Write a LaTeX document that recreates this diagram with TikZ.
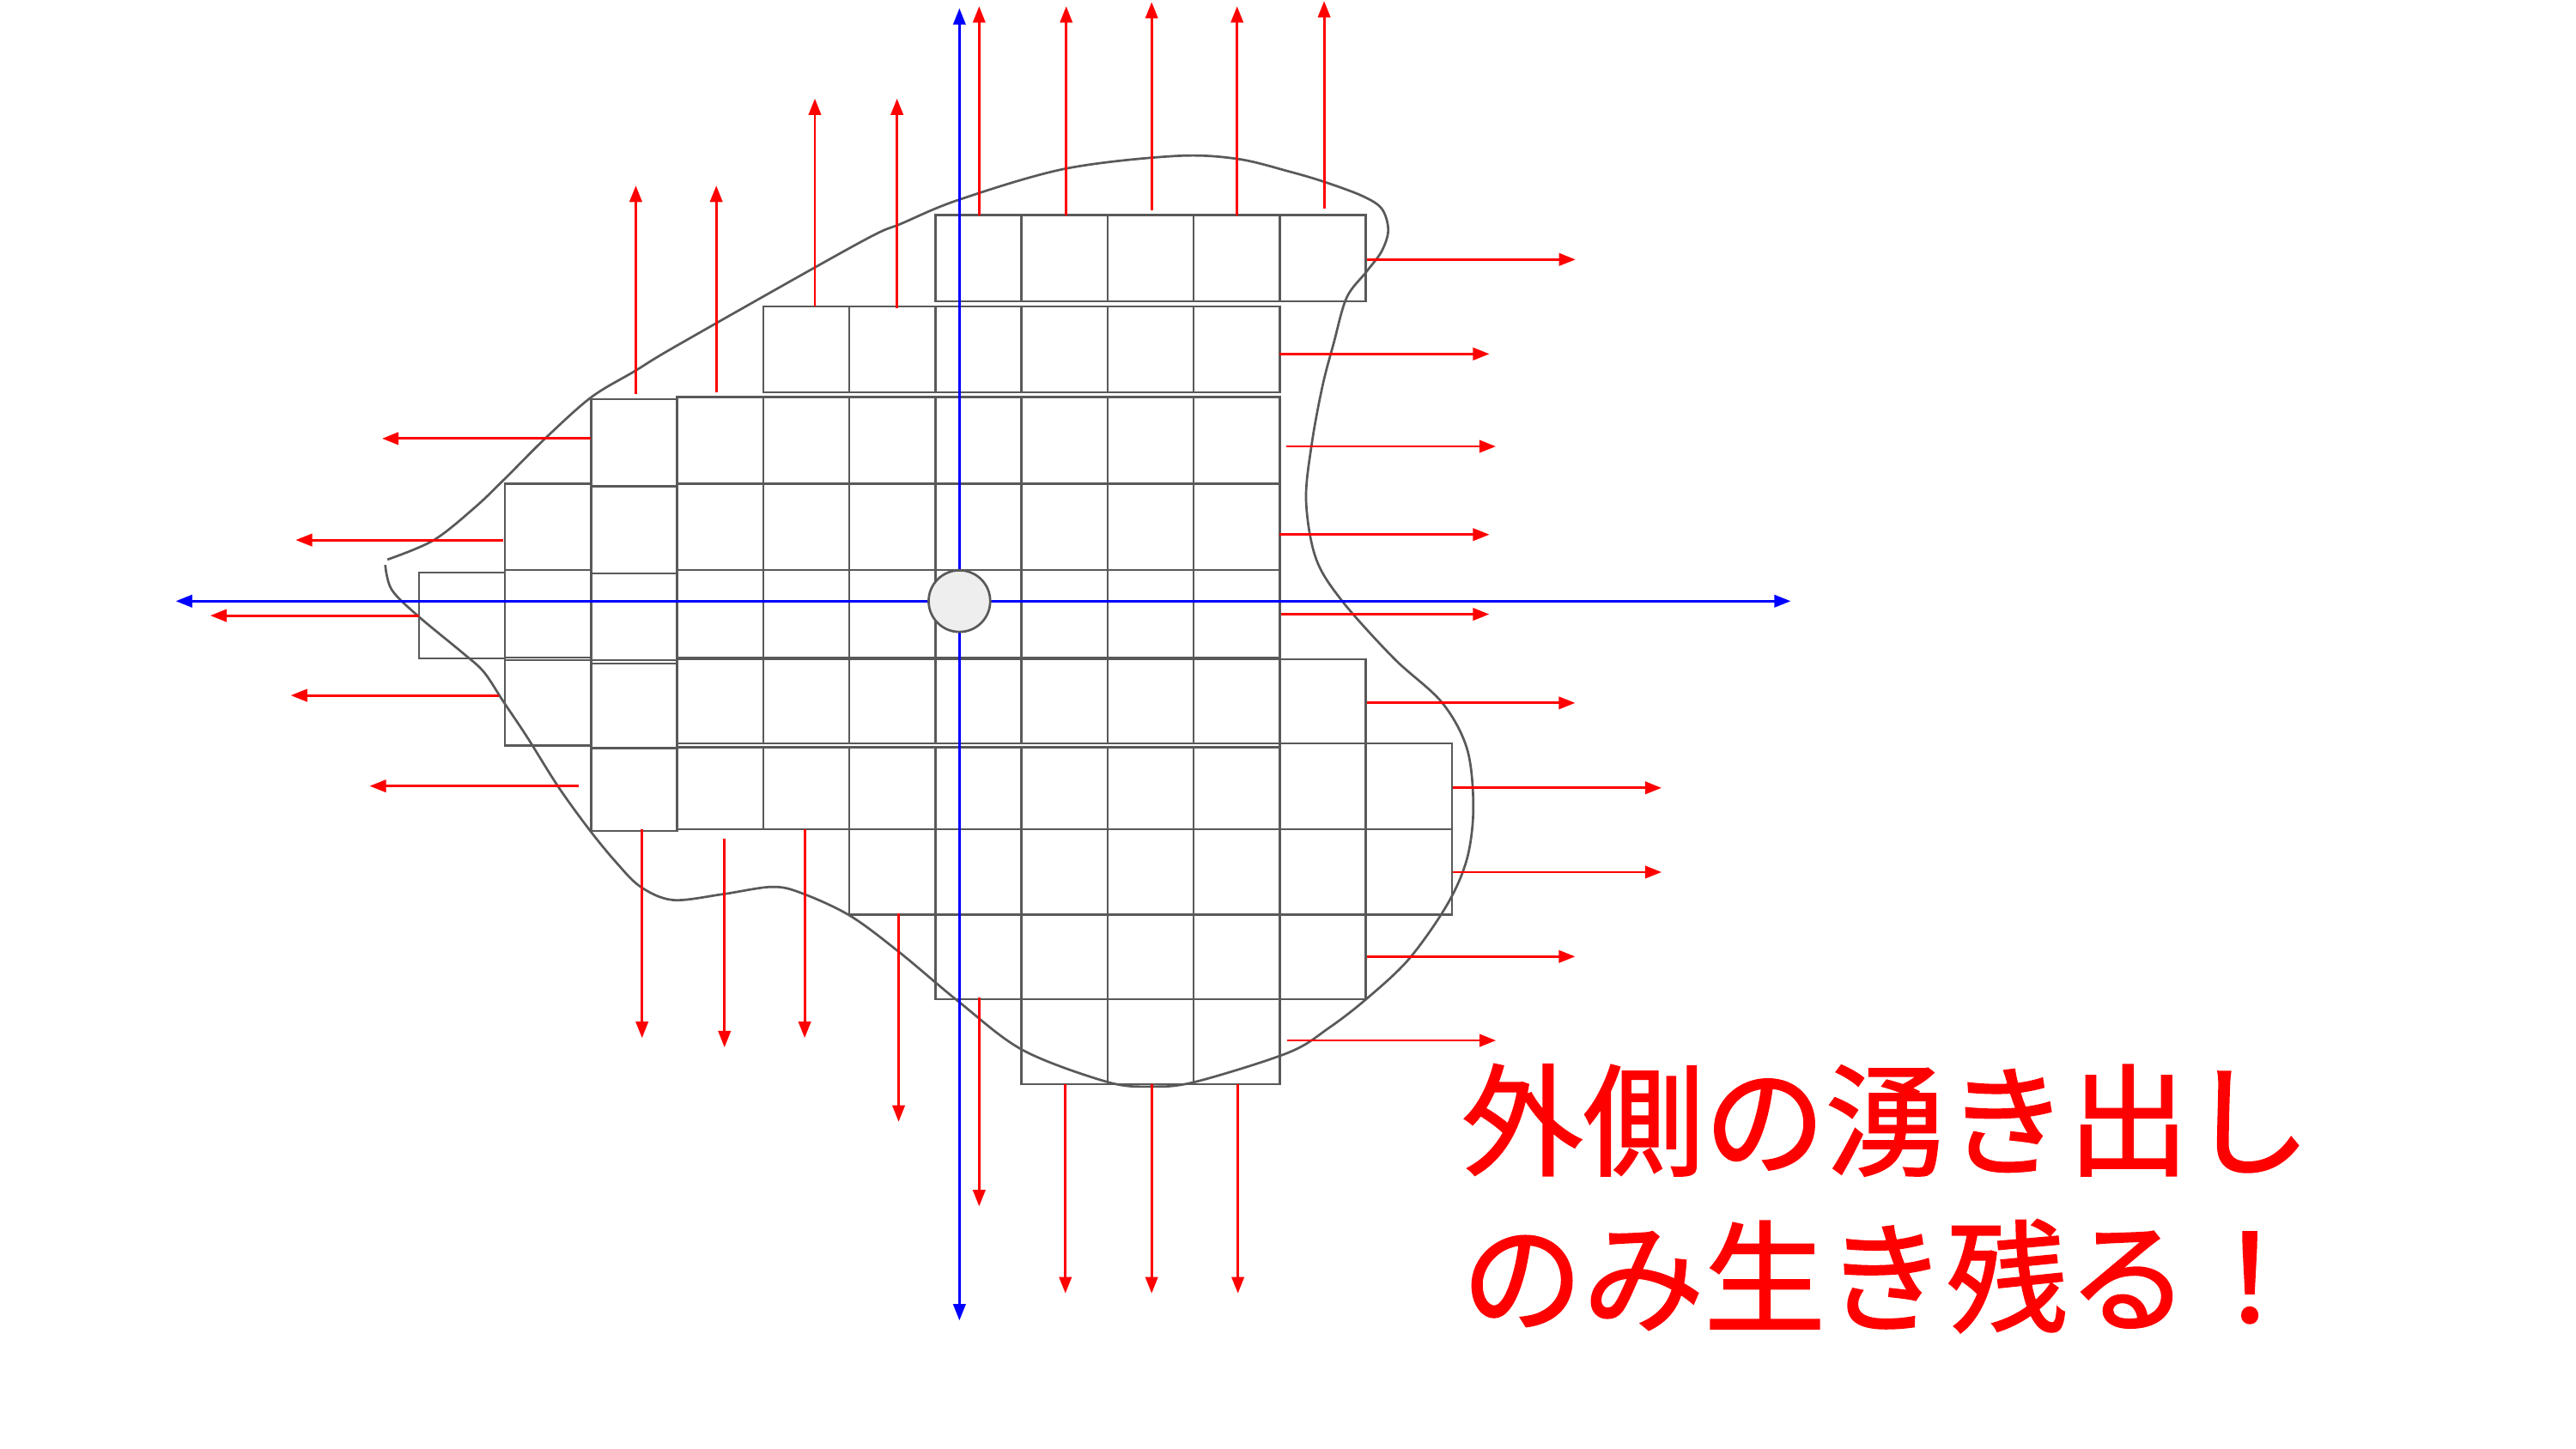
\documentclass[tikz,border=0pt]{standalone}
\usepackage{fontspec}
\newfontfamily\jpfont[FakeBold=1.5]{Noto Sans CJK JP}
\usetikzlibrary{arrows.meta}
\definecolor{boxgray}{HTML}{595959}
\definecolor{circfill}{HTML}{EEEEEE}
\newcommand\drawcells[4]{%
  \pgfmathtruncatemacro\lastc{#2-1}%
  \foreach \i in {#1,...,\lastc}{\draw[cellbox] ({255+\i*52.4},#3) rectangle ({255+(\i+1)*52.4},#4);}}
\tikzset{
  cellbox/.style={draw=boxgray, line width=0.36pt},
  redarr/.style={draw=red, line width=0.42pt, -{Triangle[length=1mm,width=0.75mm]}},
  bluearr/.style={draw=blue, line width=0.42pt, {Triangle[length=1mm,width=0.75mm]}-{Triangle[length=1mm,width=0.75mm]}},
  blob/.style={draw=boxgray, line width=0.4pt},
  jptext/.style={text=red, inner sep=0pt, anchor=west, font=\jpfont\fontsize{21}{25}\selectfont}
}
\begin{document}
\begin{tikzpicture}[x=0.1mm,y=-0.1mm]
\useasboundingbox[fill=white] (0,0) rectangle (1568,882);
% main grid strips
\drawcells{6}{11}{131}{183.5}
\drawcells{4}{10}{186.5}{238.7}
\drawcells{3}{10}{241.8}{294.5}
\drawcells{3}{10}{294.5}{347}
\drawcells{3}{10}{347}{400.5}
\drawcells{3}{11}{401.5}{452.5}
\drawcells{3}{10}{455}{505}
\drawcells{10}{12}{452.5}{505}
\drawcells{5}{12}{505}{557}
\drawcells{6}{11}{557}{608.5}
\drawcells{7}{10}{608.5}{660}
% left cells
\drawcells{2}{3}{243}{296}
\drawcells{2}{3}{296}{349}
\drawcells{2}{3}{349}{402}
\drawcells{2}{3}{404}{455.6}
\drawcells{2}{3}{455.6}{506}
\drawcells{1}{2}{294.5}{347}
\drawcells{1}{2}{347}{400.5}
\drawcells{1}{2}{402}{454}
\drawcells{0}{1}{348.5}{401}
% blob outline
\draw[blob] plot[smooth, tension=0.55] coordinates {
 (234.5,344) (238.4,359) (254.4,375) (281,397) (294.4,409) (306.3,427) (321,449)
 (339.8,479) (358.6,505) (375,525) (390,540) (409.7,548) (439.6,544.5) (469.7,540)
 (487.7,543.7) (517.5,557.6) (547.7,580) (583.7,610) (622.6,639.4) (673.8,658.7)
 (700.7,661.6) (727.6,658.7) (784,641) (808.7,626) (832,608) (857.8,583.7) (881,550.6)
 (893,522.7) (896.8,491.4) (893,456) (877.7,427.7) (848.4,400.8) (817,366) (801,340)
 (795,304.8) (798.5,270) (805,235) (811.8,209) (819.7,181.2) (831.7,165.5) (841,153)
 (845,140) (841,127) (829,119.2) (806,110.7) (785,104.5) (753,96.7) (715,95)
 (648,102.8) (584,121.5) (549,136) (522.7,148) (414.5,209) (386.3,226) (359.7,242)
 (331.8,267) (307.8,291) (289,309) (263.8,329) (235.8,340.7)};
% blue axes
\coordinate (axL) at (107,366);
\coordinate (axR) at (1090,366);
\coordinate (axT) at (584,5);
\coordinate (axB) at (584,804);
\draw[bluearr] (axL) -- (axR);
\draw[bluearr] (axT) -- (axB);
% source
\node[circle, draw=boxgray, line width=0.4pt, fill=circfill, minimum size=3.75mm, inner sep=0pt] (src) at (584,366) {};
% upward arrows
\foreach \x/\ya/\yb in {387/240/113, 436/239/113, 496/186.5/60, 546/187.5/60, 596/131/3.8, 649/131/3.8, 701/128/1.2, 753/131/3.8, 806/127/0.6}
  \draw[redarr] (\x,\ya) -- (\x,\yb);
% rightward arrows
\foreach \y/\xa/\xb in {158/832/959, 215.5/779/906.6, 271.8/783/910.5, 325.5/779/906.6, 374/779.7/906.5, 428/832/958.8, 479.7/884.6/1011.4, 531/884.6/1011.4, 582.4/832/958.8, 633.5/783.4/910.6}
  \draw[redarr] (\xa,\y) -- (\xb,\y);
% leftward arrows
\foreach \y/\xa/\xb in {267/359.7/232.6, 328.8/306.3/180, 374.8/255/128, 423.4/303.7/177, 478.6/352.3/225}
  \draw[redarr] (\xa,\y) -- (\xb,\y);
% downward arrows
\foreach \x/\ya/\yb in {390.8/505/632, 441/510.6/637.7, 489.8/505/632, 547/556/683, 596/607.2/734.5, 648.5/660/787.5, 701/660/787.5, 753.5/660/787.5}
  \draw[redarr] (\x,\ya) -- (\x,\yb);
% text
\node[jptext] (t1) at (889,682) {外側の湧き出し};
\node[jptext] (t2) at (889,777) {のみ生き残る！};
\end{tikzpicture}
\end{document}
